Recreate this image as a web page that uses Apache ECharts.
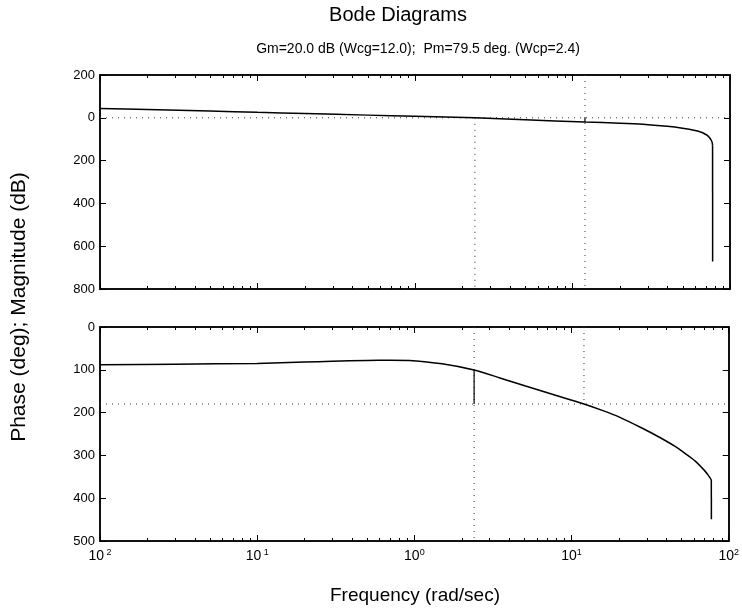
<!DOCTYPE html>
<html><head><meta charset="utf-8">
<script src="https://cdn.jsdelivr.net/npm/echarts@6/dist/echarts.min.js"></script>
<style>html,body{margin:0;padding:0;background:#fff}#c{width:742px;height:613px}</style>
</head><body><div id="c"></div>
<script>
// ---- data ----
const freqMag = [0.01, 0.02, 0.05, 0.1, 0.2, 0.5, 1, 2.4, 5, 12, 20, 28, 40, 50, 60, 65, 68, 71, 74, 76, 77.2, 77.5, 77.6];
const magDb   = [44, 38.5, 31.5, 25.5, 20, 12.5, 7, 0, -9, -20, -25, -30, -40, -49, -59, -66, -72, -80, -92, -105, -118, -130, -672];
const freqPhase = [0.01, 0.03, 0.1, 0.2, 0.3, 0.5, 0.7, 0.93, 1.5, 2.4, 3.5, 5.1, 8, 12, 16, 20, 28, 36, 45.6, 53, 61.5, 70, 74, 77.5, 77.6];
const phaseDeg  = [-88, -87, -85, -82, -80, -78, -77.5, -78, -86, -100.5, -119, -138, -160, -180, -196, -210, -236, -257, -279, -296, -314, -335, -346, -357, -449];
const wcg = 12.0, wcp = 2.4, gmDb = -20.0, pmPhase = -100.5;
const titleText = 'Bode Diagrams';
const subtitleText = 'Gm=20.0 dB (Wcg=12.0);  Pm=79.5 deg. (Wcp=2.4)';
const xName = 'Frequency (rad/sec)';
const yName = 'Phase (deg); Magnitude (dB)';
const magTickValues = [-800, -600, -400, -200, 0, 200];
const magTickLabels = ['800', '600', '400', '200', '0', '200'];
const phaseTickValues = [-500, -400, -300, -200, -100, 0];
const phaseTickLabels = ['500', '400', '300', '200', '100', '0'];
const xTickValues = [0.01, 0.1, 1, 10, 100];
const xTickSup = [' 2', ' 1', '0', '1', '2'];
const minorTickFreqs = [0.02,0.03,0.04,0.05,0.06,0.07,0.08,0.09,0.2,0.3,0.4,0.5,0.6,0.7,0.8,0.9,2,3,4,5,6,7,8,9,20,30,40,50,60,70,80,90];

const FONT = '"Liberation Sans", Arial, Helvetica, sans-serif';
const pair = (xs, ys) => xs.map((x, i) => [x, ys[i]]);
const chart = echarts.init(document.getElementById('c'), null, {renderer: 'canvas'});

const axisLine = {show: true, onZero: false, lineStyle: {color: '#111', width: 2}};
function xAx(grid, pos, labels) {
  return {type: 'log', logBase: 10, gridIndex: grid, position: pos, min: 0.01, max: 100,
    axisLine, axisTick: {show: true, inside: true, length: 6, lineStyle: {color: '#000'}},
    splitLine: {show: false},
    axisLabel: labels ? {show: true, margin: 7, fontFamily: FONT,
      formatter: (v) => { const i = xTickValues.findIndex(t => Math.abs(t - v) / t < 1e-6); return '{b|10}{s|' + xTickSup[i] + '}'; },
      rich: {b: {fontSize: 14, fontFamily: FONT, color: '#000'}, s: {fontSize: 9, fontFamily: FONT, color: '#000', padding: [0, 0, 8, 0]}}
    } : {show: false}};
}
function yAx(grid, pos, mn, mx, iv, vals, labs) {
  return {type: 'value', gridIndex: grid, position: pos, min: mn, max: mx, interval: iv,
    axisLine, axisTick: {show: true, inside: true, length: 6, lineStyle: {color: '#000'}},
    splitLine: {show: false},
    axisLabel: vals ? {show: true, margin: 5, fontSize: 13, fontFamily: FONT, color: '#000',
      formatter: (v) => labs[vals.indexOf(v)]} : {show: false}};
}
function minorTicks(xi, yi, ymin, ymax) {
  return {type: 'custom', xAxisIndex: xi, yAxisIndex: yi, silent: true, clip: false,
    data: minorTickFreqs.map(v => [v, ymin]), encode: {x: 0, y: 1},
    renderItem: (params, api) => {
      const v = api.value(0);
      const b = api.coord([v, ymin]);
      const t = api.coord([v, ymax]);
      const x = Math.round(b[0]) + 0.5;
      return {type: 'group', children: [
        {type: 'line', shape: {x1: x, y1: b[1], x2: x, y2: b[1] - 3}, style: {stroke: '#000', lineWidth: 1}},
        {type: 'line', shape: {x1: x, y1: t[1], x2: x, y2: t[1] + 3}, style: {stroke: '#000', lineWidth: 1}}
      ]};
    }};
}
function ln(xi, yi, data, dotted, w, smooth) {
  return {type: 'line', xAxisIndex: xi, yAxisIndex: yi, data, symbol: 'none', silent: true,
    smooth: smooth || false,
    lineStyle: {color: dotted ? '#333' : '#000', width: w || 1, type: dotted ? [1, 5] : 'solid'}};
}
const magPts = pair(freqMag, magDb);
const phasePts = pair(freqPhase, phaseDeg);

chart.setOption({
  animation: false,
  backgroundColor: '#fff',
  grid: [
    {left: 100, right: 12, top: 75, height: 214},
    {left: 100, right: 12, top: 327, height: 214}
  ],
  xAxis: [xAx(0, 'bottom', false), xAx(0, 'top', false), xAx(1, 'bottom', true), xAx(1, 'top', false)],
  yAxis: [
    yAx(0, 'left', -800, 200, 200, magTickValues, magTickLabels),
    yAx(0, 'right', -800, 200, 200, null, null),
    yAx(1, 'left', -500, 0, 100, phaseTickValues, phaseTickLabels),
    yAx(1, 'right', -500, 0, 100, null, null)
  ],
  graphic: [
    {type: 'text', x: 398, y: 15, style: {text: titleText, font: '20px ' + FONT, fill: '#000', align: 'center', verticalAlign: 'middle'}},
    {type: 'text', x: 418, y: 49, style: {text: subtitleText, font: '14px ' + FONT, fill: '#000', align: 'center', verticalAlign: 'middle'}},
    {type: 'text', x: 415, y: 596, style: {text: xName, font: '19px ' + FONT, fill: '#000', align: 'center', verticalAlign: 'middle'}},
    {type: 'text', x: 19, y: 307, rotation: Math.PI / 2, style: {text: yName, font: '21px ' + FONT, fill: '#000', align: 'center', verticalAlign: 'middle'}}
  ],
  series: [
    minorTicks(0, 0, -800, 200),
    minorTicks(2, 2, -500, 0),
    // magnitude panel reference lines
    ln(0, 0, [[0.01, 0], [100, 0]], true),
    ln(0, 0, [[wcp, 0], [wcp, -800]], true),
    ln(0, 0, [[wcg, 200], [wcg, -800]], true),
    ln(0, 0, [[wcg, gmDb], [wcg, 0]], false, 1.2),
    ln(0, 0, magPts.slice(0, -1), false, 1.5, 0.25),
    ln(0, 0, magPts.slice(-2), false, 1.5),
    // phase panel reference lines
    ln(2, 2, [[0.01, -180], [100, -180]], true),
    ln(2, 2, [[wcg, 0], [wcg, -180]], true),
    ln(2, 2, [[wcp, 0], [wcp, -500]], true),
    ln(2, 2, [[wcp, -180], [wcp, pmPhase]], false, 1.2),
    ln(2, 2, phasePts.slice(0, -1), false, 1.5, 0.25),
    ln(2, 2, phasePts.slice(-2), false, 1.5)
  ]
});
</script></body></html>
